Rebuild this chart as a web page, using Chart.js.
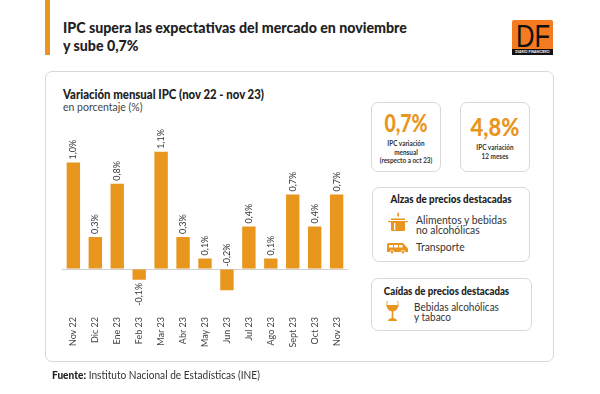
<!DOCTYPE html>
<html lang="es">
<head>
<meta charset="utf-8">
<title>IPC noviembre</title>
<script src="https://cdn.jsdelivr.net/npm/chart.js@4"></script>
<style>
  html, body { margin: 0; padding: 0; background: #fff; }
  body { width: 600px; height: 394px; position: relative; overflow: hidden; font-family: Lato, sans-serif; color: #222; }
  .abs { position: absolute; }
  .txt { position: absolute; white-space: nowrap; transform-origin: left center; }
  .mid { text-align: center; transform-origin: center center; }
  .box { position: absolute; border: 1px solid #d8d8d8; border-radius: 7px; box-sizing: border-box; background: #fff; }
  .big { color: #e8961e; font-weight: 900; }
  .small { font-weight: 700; font-size: 8px; line-height: 8.500px; color: #333; transform: scaleX(.8); }
  .head { font-weight: 900; font-size: 11.5px; line-height: 14px; color: #222; transform: scaleX(.85); }
  .item { font-size: 11.5px; line-height: 10px; color: #333; transform: scaleX(.9); }
</style>
</head>
<body>
<div class="abs" style="left:45px;top:0;width:5px;height:55px;background:#e8961e"></div>
<div class="txt" style="left:63px;top:19px;font-size:15.500px;line-height:17.500px;font-weight:900;color:#222;transform:scaleX(.915);transform-origin:left top">IPC supera las expectativas del mercado en noviembre<br>y sube 0,7%</div>

<div class="abs" style="left:512px;top:20px;width:41px;height:35px;background:#f47b20;border-radius:2px"></div>
<div class="abs" style="left:512px;top:49px;width:41px;height:6px;background:#111"></div>
<div class="txt mid" style="left:512px;top:18px;width:41px;font-family:'Liberation Sans';font-size:32px;line-height:36px;color:#111;transform:scaleX(.8)">DF</div>
<div class="txt mid" style="left:512px;top:49px;width:41px;font-size:3.500px;line-height:6px;color:#fff;font-weight:700">DIARIO FINANCIERO</div>

<div class="box" style="left:45px;top:71px;width:509px;height:291px"></div>
<div class="txt" style="left:63px;top:86px;font-size:13px;line-height:16px;font-weight:900;color:#222;transform:scaleX(.875)">Variación mensual IPC (nov 22 - nov 23)</div>
<div class="txt" style="left:63px;top:101px;font-size:10.500px;line-height:13px;color:#444">en porcentaje (%)</div>

<canvas id="chart" class="abs" width="310" height="274" style="left:50px;top:120px"></canvas>

<div class="box" style="left:371px;top:102px;width:70px;height:70px"></div>
<div class="box" style="left:460px;top:102px;width:70px;height:70px"></div>
<div class="txt mid big" style="left:371px;top:109px;width:70px;font-size:24px;line-height:28px;transform:scaleX(.81)">0,7%</div>
<div class="txt mid small" style="left:371px;top:139px;width:70px">IPC variación<br>mensual<br>(respecto a oct 23)</div>
<div class="txt mid big" style="left:460px;top:112px;width:70px;font-size:25px;line-height:28px;transform:scaleX(.88)">4,8%</div>
<div class="txt mid small" style="left:460px;top:143px;width:70px">IPC variación<br>12 meses</div>

<div class="box" style="left:372px;top:187px;width:158px;height:75px"></div>
<div class="txt mid head" style="left:372px;top:192px;width:158px">Alzas de precios destacadas</div>
<svg class="abs" style="left:388px;top:212px" width="20" height="19" viewBox="0 0 20 19">
  <path d="M10 0c1.400 2 1.400 3 .5 5-1.500-1-1.700-3-.5-5z" fill="#e8961e"/>
  <rect x="3" y="6.500" width="14" height="1.500" fill="#e8961e"/>
  <rect x="0" y="9" width="20" height="1.200" fill="#e8961e"/>
  <rect x="3" y="9" width="14" height="10" rx="1" fill="#e8961e"/>
  <rect x="6" y="11" width="1.300" height="7" fill="#fff"/>
</svg>
<div class="txt item" style="left:416px;top:215px">Alimentos y bebidas<br>no alcohólicas</div>
<svg class="abs" style="left:387px;top:243px" width="22" height="11" viewBox="0 0 22 11">
  <path d="M1 0h15l5 5.500V9H0V1z" fill="#e8961e"/>
  <rect x="2" y="2" width="4" height="2.500" fill="#fff"/><rect x="7" y="2" width="4" height="2.500" fill="#fff"/><rect x="12" y="2" width="3.500" height="2.500" fill="#fff"/>
  <circle cx="5" cy="9" r="1.800" fill="#e8961e" stroke="#fff" stroke-width=".7"/><circle cx="16" cy="9" r="1.800" fill="#e8961e" stroke="#fff" stroke-width=".7"/>
</svg>
<div class="txt item" style="left:416px;top:242px">Transporte</div>

<div class="box" style="left:371px;top:278px;width:161px;height:53px"></div>
<div class="txt mid head" style="left:366px;top:284px;width:161px;transform:scaleX(.84)">Caídas de precios destacadas</div>
<svg class="abs" style="left:386px;top:301px" width="13" height="20" viewBox="0 0 13 20">
  <path d="M1 0C-1 5 2 10.500 6.500 10.500S14 5 12 0h-1c1 2 1 3 .5 4h-10C1 3 1 2 2 0z" fill="#e8961e"/>
  <rect x="5.700" y="10" width="1.600" height="7.500" fill="#e8961e"/>
  <path d="M2 20c0-2 2.500-3 4.500-3s4.500 1 4.500 3z" fill="#e8961e"/>
</svg>
<div class="txt item" style="left:414px;top:302px;transform:scaleX(.87)">Bebidas alcohólicas<br>y tabaco</div>

<div class="txt" style="left:52px;top:368px;font-size:11.500px;line-height:14px;color:#333;transform:scaleX(.88)"><b style="font-weight:900;color:#222">Fuente:</b> Instituto Nacional de Estadísticas (INE)</div>

<script>
const meses = ['Nov 22','Dic 22','Ene 23','Feb 23','Mar 23','Abr 23','May 23','Jun 23','Jul 23','Ago 23','Sept 23','Oct 23','Nov 23'];
const variacion = [1.0, 0.3, 0.8, -0.1, 1.1, 0.3, 0.1, -0.2, 0.4, 0.1, 0.7, 0.4, 0.7];

// etiquetas rotadas sobre cada barra
const etiquetas = {
  id: 'etiquetas',
  afterDatasetsDraw(chart) {
    const ctx = chart.ctx;
    chart.getDatasetMeta(0).data.forEach((bar, i) => {
      const v = variacion[i];
      let y = bar.y - 3;
      let align = 'left';
      if (v < 0 && meses[i] === 'Jun 23') {
        y = bar.base - 3;   // esta va arriba del eje, igual que el original
      } else if (v < 0) {
        y = bar.y + 3;
        align = 'right';
      }
      ctx.save();
      ctx.translate(bar.x, y);
      ctx.rotate(-Math.PI / 2);
      ctx.font = '9px Lato';
      ctx.fillStyle = '#333';
      ctx.textAlign = align;
      ctx.textBaseline = 'middle';
      ctx.fillText(v.toFixed(1).replace('.', ',') + '%', 0, 0);
      ctx.restore();
    });
  }
};

new Chart(document.getElementById('chart'), {
  type: 'bar',
  data: {
    labels: meses,
    datasets: [{
      data: variacion,
      backgroundColor: '#e8961e',
      barPercentage: 0.61,
      categoryPercentage: 1
    }]
  },
  options: {
    responsive: false,
    animation: false,
    layout: { padding: { left: 12.4, right: 12.4, top: 21.2, bottom: 33 } },
    plugins: { legend: { display: false }, tooltip: { enabled: false } },
    scales: {
      x: {
        afterFit: (scale) => { scale.height = 60; },
        grid: { display: false },
        border: { display: false },
        ticks: {
          autoSkip: false,
          minRotation: 90,
          maxRotation: 90,
          padding: 8,
          color: '#444',
          font: { family: 'Lato', size: 9 }
        }
      },
      y: {
        min: -0.3,
        max: 1.2,
        ticks: { display: false, stepSize: 0.3 },
        border: { display: false },
        grid: {
          drawTicks: false,
          color: (c) => Math.abs(c.tick.value) < 1e-6 ? '#cfcfcf' : 'transparent'
        }
      }
    }
  },
  plugins: [etiquetas]
});
</script>
</body>
</html>
